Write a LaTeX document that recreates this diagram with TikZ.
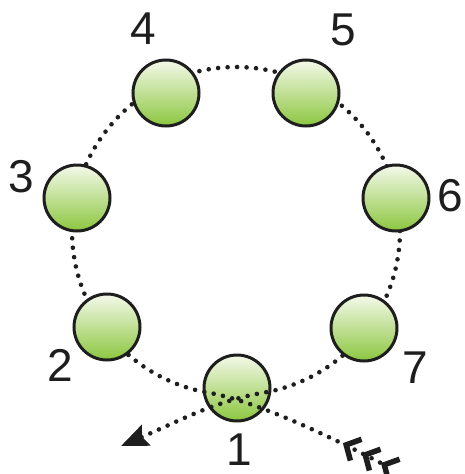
\documentclass[tikz,border=0pt]{standalone}
\usepackage{fontspec}
\setmainfont{Liberation Sans}
\usetikzlibrary{arrows.meta,calc}
\definecolor{ballTop}{HTML}{F4F9EA}
\definecolor{ballBot}{HTML}{8CC63F}
\definecolor{ink}{HTML}{1E1E1E}
\tikzset{feather/.tip={Straight Barb[reversed,length=11pt,width=24pt,line width=5.5pt,sep=4pt]}}
\begin{document}
\begin{tikzpicture}[x=1pt,y=-1pt,
  ball/.style={circle,draw=ink,line width=3pt,minimum size=66pt,inner sep=0pt,top color=ballTop,bottom color=ballBot},
  lab/.style={inner sep=0pt,text=ink,font=\fontsize{46}{46}\selectfont},
  dotline/.style={draw=ink,line width=4.6pt,line cap=round,dash pattern=on 0pt off 9.5pt}]
\useasboundingbox (0,0) rectangle (464,474);
\coordinate (c) at (236,231);
\coordinate (e2) at ($(c)+(131:164)$);
\coordinate (e7) at ($(c)+(49.5:164)$);
\coordinate (tA) at (400,473);
\coordinate (tB) at (121,446);
% ring behind the nodes
\draw[dotline] (e2) arc[start angle=131,end angle=409.5,radius=164];
% nodes
\node[ball] (n1) at (237,388) {};
\node[ball] (n2) at (107,327) {};
\node[ball] (n3) at (77,198) {};
\node[ball] (n4) at (166,93) {};
\node[ball] (n5) at (306,93) {};
\node[ball] (n6) at (396,198) {};
\node[ball] (n7) at (364,328) {};
% labels
\node[lab] (l1) at (239,450) {1};
\node[lab] (l2) at (60,365) {2};
\node[lab] (l3) at (21,177) {3};
\node[lab] (l4) at (143,29) {4};
\node[lab] (l5) at (343,30) {5};
\node[lab] (l6) at (450,196) {6};
\node[lab] (l7) at (415,368) {7};
% incoming and outgoing paths crossing node 1
\draw[dotline,-{feather[]feather[]feather[]}] (e2) arc[start angle=131,end angle=100,radius=164]
  .. controls (257,401) and (335,439) .. (tA);
\draw[dotline,-{Stealth[length=27pt,width=22pt,inset=4pt]}] (e7) arc[start angle=49.5,end angle=80,radius=164]
  .. controls (214.5,401) and (177,422) .. (tB);
\end{tikzpicture}
\end{document}
